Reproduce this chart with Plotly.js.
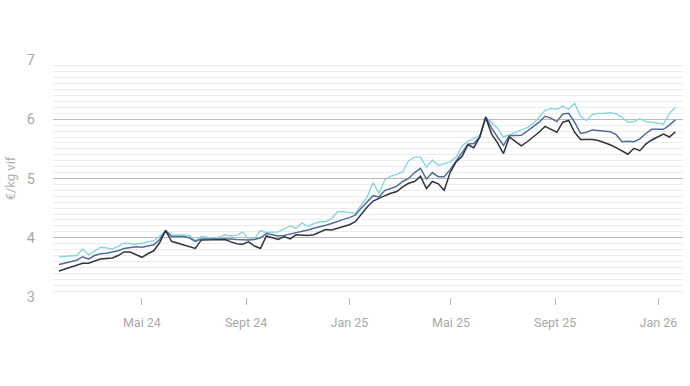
<!DOCTYPE html>
<html>
<head>
<meta charset="utf-8">
<script src="https://cdn.plot.ly/plotly-3.0.1.min.js"></script>
<style>html,body{margin:0;padding:0;background:#fff;}#chart{width:690px;height:386px;}</style>
</head>
<body>
<div id="chart"></div>
<script>
// Weekly dates (from 2024-01-24)
const startDate = '2024-01-24';
const nWeeks = 105;

const seriesLight = [3.68,3.69,3.70,3.70,3.81,3.71,3.77,3.84,3.83,3.81,3.86,3.91,3.90,3.89,3.91,3.93,3.95,4.02,4.12,4.05,
4.05,4.05,4.04,3.95,4.02,4.01,3.99,4.01,4.05,4.03,4.04,4.10,3.97,3.99,4.12,4.09,4.10,4.10,4.15,4.20,
4.16,4.25,4.19,4.24,4.27,4.27,4.32,4.44,4.44,4.43,4.41,4.55,4.69,4.93,4.75,4.98,5.04,5.07,5.11,5.30,
5.36,5.36,5.19,5.31,5.22,5.25,5.28,5.36,5.55,5.63,5.67,5.72,6.04,5.95,5.85,5.70,5.74,5.77,5.82,5.86,
5.93,6.03,6.15,6.18,6.17,6.22,6.17,6.27,6.05,5.98,6.08,6.10,6.10,6.11,6.09,6.03,5.95,5.96,6.01,5.96,
5.95,5.94,5.92,6.10,6.20];

const seriesMid = [3.55,3.57,3.59,3.62,3.68,3.64,3.70,3.73,3.74,3.76,3.78,3.82,3.84,3.85,3.84,3.86,3.88,3.97,4.12,4.02,
4.02,4.02,4.00,3.94,3.98,3.98,3.98,3.99,3.99,3.98,3.97,3.96,3.96,3.97,4.00,4.07,4.05,4.03,4.04,4.06,
4.09,4.11,4.13,4.16,4.18,4.21,4.24,4.28,4.31,4.34,4.38,4.50,4.61,4.71,4.69,4.80,4.83,4.87,4.95,5.00,
5.10,5.17,4.99,5.10,5.03,5.03,5.15,5.30,5.45,5.58,5.59,5.70,6.04,5.85,5.70,5.56,5.72,5.73,5.73,5.80,
5.87,5.95,6.05,6.02,5.96,6.09,6.10,5.95,5.76,5.78,5.82,5.81,5.80,5.79,5.74,5.62,5.63,5.62,5.67,5.76,
5.83,5.83,5.83,5.90,5.99];

const seriesDark = [3.44,3.47,3.50,3.53,3.57,3.57,3.61,3.64,3.65,3.66,3.70,3.76,3.76,3.72,3.67,3.73,3.78,3.92,4.12,3.94,
3.91,3.89,3.86,3.82,3.96,3.96,3.96,3.97,3.97,3.93,3.90,3.89,3.93,3.86,3.82,4.03,4.00,3.97,4.02,3.98,
4.05,4.04,4.04,4.05,4.09,4.14,4.13,4.16,4.19,4.22,4.27,4.40,4.52,4.62,4.67,4.71,4.75,4.78,4.86,4.92,
4.95,5.04,4.83,4.95,4.91,4.80,5.10,5.28,5.37,5.57,5.52,5.70,6.03,5.75,5.60,5.42,5.70,5.63,5.55,5.62,
5.70,5.78,5.88,5.83,5.78,5.95,5.98,5.78,5.66,5.66,5.66,5.64,5.61,5.57,5.52,5.47,5.41,5.51,5.47,5.58,
5.65,5.70,5.75,5.70,5.79];

const tickDates = ['2024-05-01','2024-09-01','2025-01-01','2025-05-01','2025-09-01','2026-01-01'];
const tickLabels = ['Mai 24','Sept 24','Jan 25','Mai 25','Sept 25','Jan 26'];

function weekDates(start, n){
  const out = [];
  const d0 = new Date(start + 'T00:00:00Z');
  for (let i = 0; i < n; i++){
    const d = new Date(d0.getTime() + i*7*86400000);
    out.push(d.toISOString().slice(0,10));
  }
  return out;
}
const dates = weekDates(startDate, nWeeks);

const mk = (y, color, w) => ({
  x: dates, y: y, type: 'scatter', mode: 'lines',
  line: {color: color, width: w}, hoverinfo: 'skip', showlegend: false
});

const data = [
  mk(seriesLight, '#86d6de', 1.4),
  mk(seriesMid, '#4e6c9c', 1.5),
  mk(seriesDark, '#30343f', 1.5)
];

const layout = {
  width: 690, height: 386,
  margin: {l: 53, r: 7, t: 60, b: 89},
  paper_bgcolor: '#fff', plot_bgcolor: '#fff',
  font: {family: 'Roboto, sans-serif', color: '#a3a3a3'},
  xaxis: {
    type: 'date',
    range: ['2024-01-17', '2026-01-30'],
    tickvals: tickDates, ticktext: tickLabels,
    ticks: 'outside', ticklen: 7, tickcolor: '#b5b5b5', tickwidth: 1,
    showgrid: false, zeroline: false,
    showline: false,
    tickfont: {size: 12.5, color: '#a8a8a8'},
    ticklabelstandoff: 7
  },
  yaxis: {
    range: [3, 7],
    tickvals: [3,4,5,6,7],
    showgrid: true, gridcolor: '#b9b9b9', gridwidth: 1,
    minor: {dtick: 0.1, showgrid: true, gridcolor: '#ececec', gridwidth: 1},
    zeroline: false, showline: false, ticks: '',
    tickfont: {size: 14.5, color: '#a8a8a8'},
    ticklabelstandoff: 17,
    title: {text: '€/kg vif', font: {size: 13, color: '#b0b0b0'}, standoff: 8}
  }
};

Plotly.newPlot('chart', data, layout, {displayModeBar: false, staticPlot: true});
</script>
</body>
</html>
